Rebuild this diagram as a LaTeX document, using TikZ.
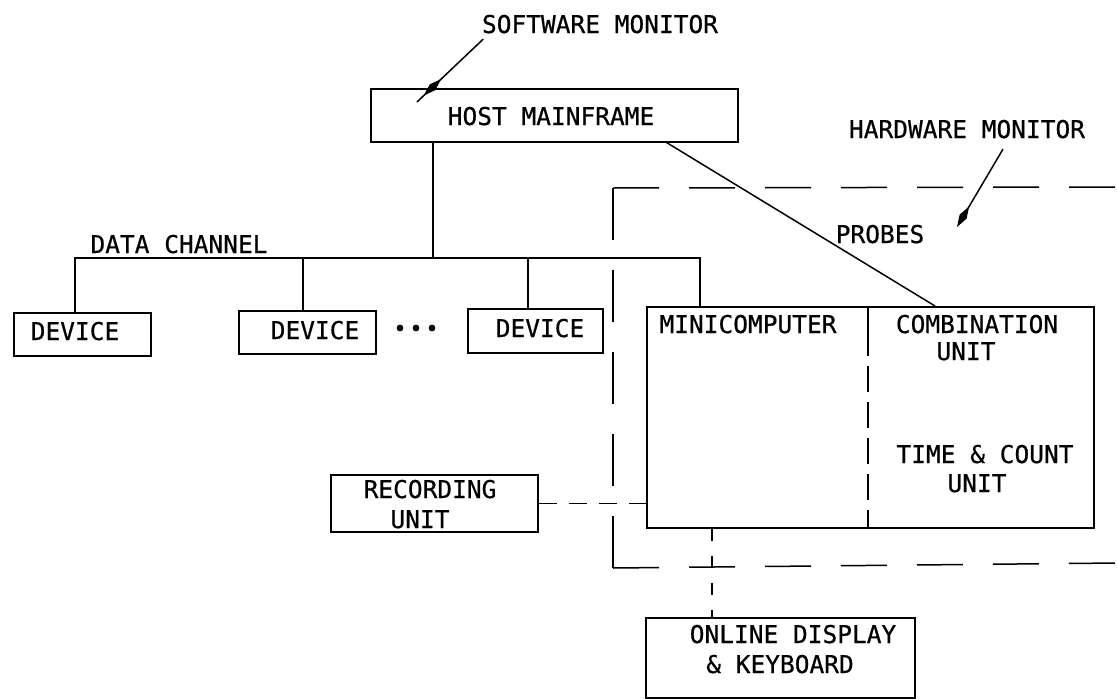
\documentclass[tikz,border=0pt]{standalone}
\usepackage{fontspec}
\newfontfamily\djm[FakeBold=0.6]{DejaVu Sans Mono}
\usetikzlibrary{arrows.meta,calc,decorations.markings}
\begin{document}
\begin{tikzpicture}[x=1pt,y=-1pt, line width=1.5pt,
  box/.style={draw, inner sep=0pt, anchor=north west},
  lbl/.style={font=\djm\fontsize{24.5}{29}\selectfont, anchor=base, inner sep=0pt},
  recdash/.style={dash pattern=on 18pt off 12pt},
  odash/.style={dash pattern=on 12pt off 15pt},
  divdash/.style={dash pattern=on 26pt off 10pt},
  hwvert/.style={dash pattern=on 52pt off 30pt},
  hwhoriz/.style={dash pattern=on 46pt off 30pt},
  kite/.tip={Kite[length=24pt,width=8pt,inset=12pt]},
  swarrow/.style={decoration={markings, mark=at position 0.9 with {\arrow{kite}}}, postaction={decorate}}
]
\useasboundingbox (0,0) rectangle (1117,699);

% boxes
\node[box, minimum width=367pt, minimum height=53pt] (host) at (370,88) {};
\node[box, minimum width=137pt, minimum height=43pt] (dev1) at (13,312) {};
\node[box, minimum width=137pt, minimum height=43pt] (dev2) at (238,310) {};
\node[box, minimum width=135pt, minimum height=44pt] (dev3) at (467,308) {};
\node[box, minimum width=447pt, minimum height=221pt] (mini) at (646,306) {};
\node[box, minimum width=207pt, minimum height=57pt] (rec) at (330,474) {};
\node[box, minimum width=269pt, minimum height=80pt] (online) at (645,617) {};

% texts
\node[lbl] (swl) at (600,33) {SOFTWARE MONITOR};
\node[lbl] (hostt) at (551,125) {HOST MAINFRAME};
\node[lbl] (hwl) at (967,138) {HARDWARE MONITOR};
\node[lbl] (probes) at (880,243) {PROBES};
\node[lbl] (dch) at (179,253) {DATA CHANNEL};
\node[lbl] (dev1t) at (75,340) {DEVICE};
\node[lbl] (dev2t) at (315,339) {DEVICE};
\node[lbl] (dev3t) at (540,337) {DEVICE};
\node[lbl] (minit) at (748,333) {MINICOMPUTER};
\node[lbl] (comb1) at (977,333) {COMBINATION};
\node[lbl] (comb2) at (966,360) {UNIT};
\node[lbl] (tc1) at (985,463) {TIME \& COUNT};
\node[lbl] (tc2) at (977,492) {UNIT};
\node[lbl] (rec1) at (430,498) {RECORDING};
\node[lbl] (rec2) at (420,528) {UNIT};
\node[lbl] (on1) at (793,643) {ONLINE DISPLAY};
\node[lbl] (on2) at (780,673) {\& KEYBOARD};

% dots
\fill (400,328) circle (3.4pt);
\fill (416,328) circle (3.4pt);
\fill (432,328) circle (3.4pt);

% data channel bus
\coordinate (bl) at (75,258);
\coordinate (br) at (700,258);
\coordinate (hj) at (433,258);
\coordinate (j2) at (303,258);
\coordinate (j3) at (528,258);
\draw (dev1.north -| bl) -- (bl) -- (br) -- (br |- mini.north);
\draw (host.south -| hj) -- (hj);
\draw (j2) -- (j2 |- dev2.north);
\draw (j3) -- (j3 |- dev3.north);

% probes line
\draw ($(host.south east)+(-72,0)$) -- ($(mini.north west)+(289,0)$);

% minicomputer divider
\coordinate (dv) at (868,0);
\draw (mini.north -| dv) -- ++(0,24);
\draw[divdash] ($(mini.north -| dv)+(0,24)$) -- (mini.south -| dv);

% recording and online connectors
\draw[recdash] (rec.east) -- (rec.east -| mini.west);
\coordinate (oj) at (712,0);
\draw[odash] (mini.south -| oj) -- (online.north -| oj);

% hardware monitor boundary
\coordinate (hwtl) at (613,188);
\coordinate (hwbl) at (613,568);
\draw[hwhoriz] (hwtl) -- (1117,187);
\draw[hwvert] (hwtl) -- (hwbl);
\draw[hwhoriz] (hwbl) -- (1117,563);

% monitor arrows
\coordinate (swtip) at (417,102);
\draw[swarrow] ($(swl.south west)+(2,5)$) -- (swtip);
\coordinate (hwtip) at (957,227);
\draw[-{kite}] ($(hwl.south)+(36,10)$) -- (hwtip);
\end{tikzpicture}
\end{document}
